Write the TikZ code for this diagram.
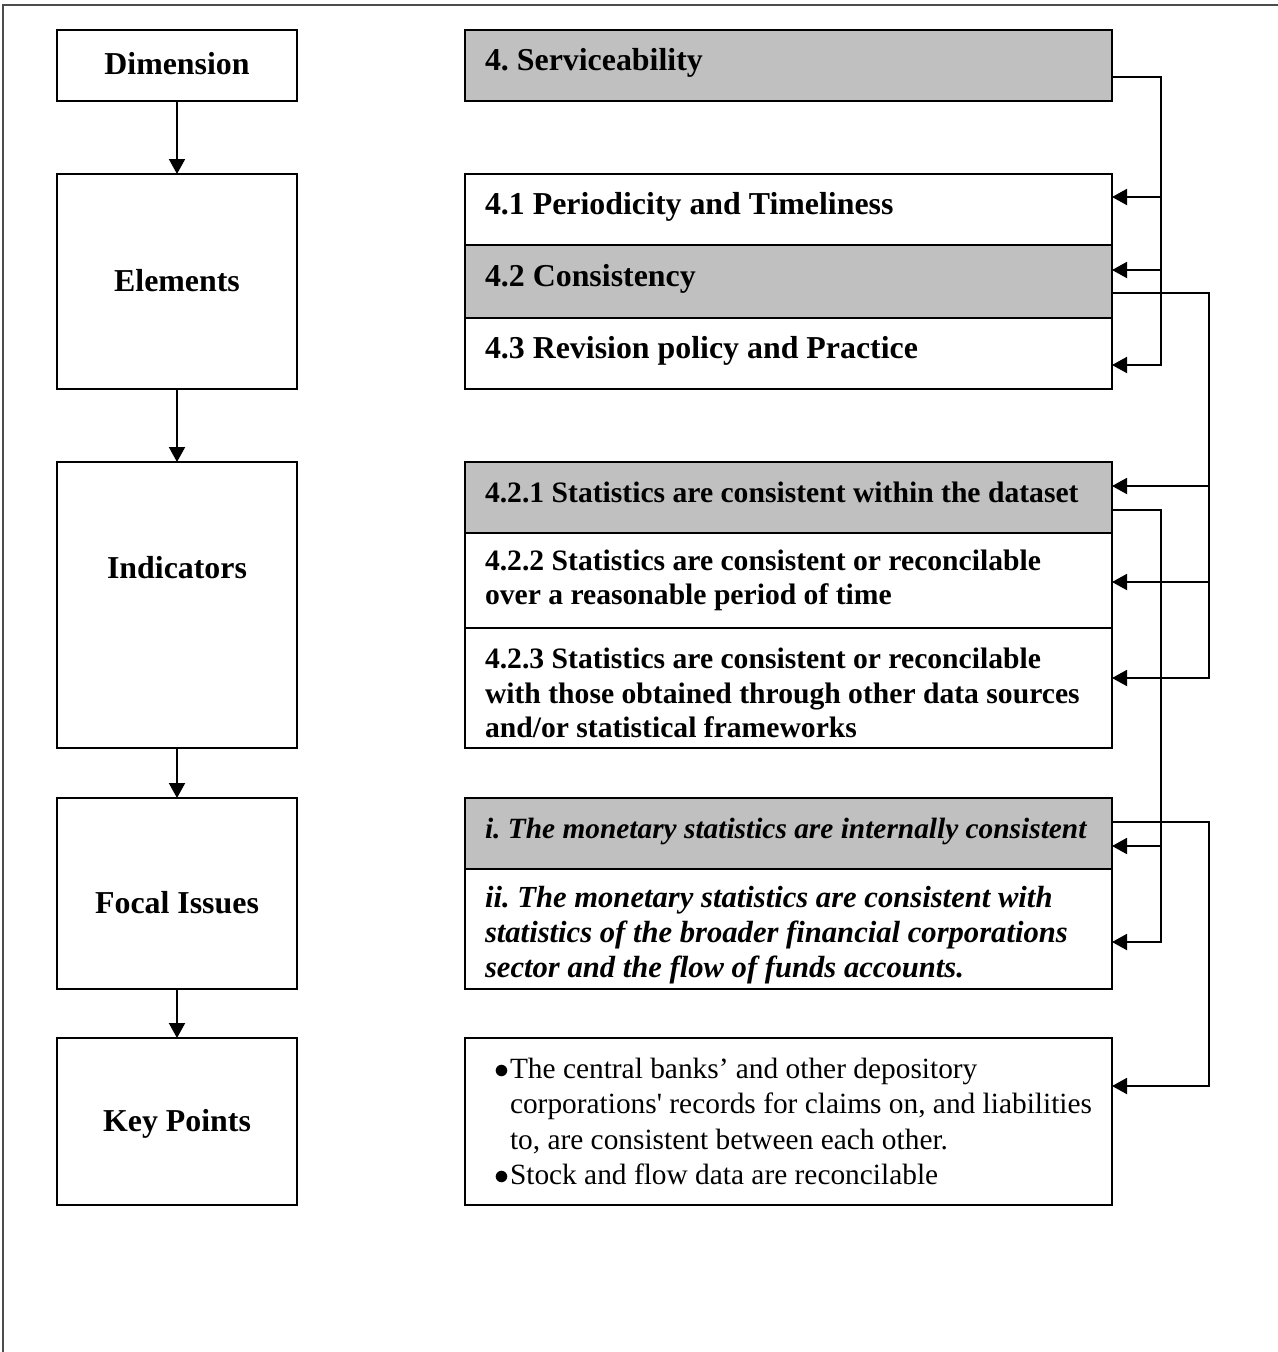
\documentclass[tikz,border=0pt]{standalone}
\usepackage{fontspec}
\setmainfont{Liberation Serif}[Ligatures=TeXOff]
\usetikzlibrary{arrows.meta, positioning}

\definecolor{cellgray}{RGB}{192,192,192}

% bullet line with hanging indent for the key points
\newcommand{\kpitem}[1]{\hangindent=10pt\hangafter=1\noindent\hspace*{3.6pt}\makebox[6.4pt][l]{$\bullet$}#1\par}

\begin{document}
\frenchspacing
\begin{tikzpicture}[
            x = 0.4pt, y = -0.4pt, % one unit per pixel, y runs downwards
            > = {Triangle[length=6pt, width=6.4pt]}, % arrow head style
            line width = 0.8pt % line style
        ]

        \tikzstyle{leftbox}=[
            draw = black,
            minimum width = 96pt,
            outer sep = 0pt,
            text height = 8.6pt,
            text depth = 1pt,
            font = \fontsize{12.75pt}{13.8pt}\selectfont\bfseries
        ]
        \tikzstyle{whitebox}=[
            draw = black,
            fill = white,
            text width = 242.8pt,
            inner xsep = 8pt,
            inner ysep = 1pt,
            outer sep = 0pt,
            align = flush left,
            font = \fontsize{12.75pt}{13.8pt}\selectfont\bfseries
        ]
        \tikzstyle{graybox}=[whitebox, fill = cellgray]
        \tikzstyle{oneline}=[text height = 8.6pt, text depth = 4.4pt]
        \tikzstyle{indic}=[font = \fontsize{11.85pt}{13.8pt}\selectfont\bfseries]
        \tikzstyle{focal}=[font = \fontsize{12.25pt}{14pt}\selectfont\bfseries\itshape]

        \useasboundingbox (0,0) rectangle (1278,1352);
        \draw[line width = 0.6pt, black!70] (3,1352) -- (3,5) -- (1278,5);

        % left column
        \node[leftbox, minimum height = 28.4pt, anchor = north west] (dim) at (57,30) {Dimension};
        \node[leftbox, minimum height = 86pt, below = 29.2pt of dim] (elem) {Elements};
        \node[leftbox, minimum height = 114.4pt, text depth = 29.6pt, below = 29.2pt of elem] (ind) {Indicators};
        \node[leftbox, minimum height = 76.4pt, text height = 17pt, below = 20pt of ind] (focal) {Focal Issues};
        \node[leftbox, minimum height = 66.8pt, below = 19.6pt of focal] (key) {Key Points};

        \draw[->] (dim) -- (elem);
        \draw[->] (elem) -- (ind);
        \draw[->] (ind) -- (focal);
        \draw[->] (focal) -- (key);

        % right column
        \node[graybox, oneline, minimum height = 28.4pt, anchor = north west] (serv) at (465,30) {4. Serviceability};

        \node[whitebox, oneline, minimum height = 28.4pt, anchor = north west] (p41) at (serv.west |- elem.north) {4.1 Periodicity and Timeliness};
        \node[graybox, oneline, minimum height = 29.2pt, below = 0pt of p41] (p42) {4.2 Consistency};
        \node[whitebox, oneline, minimum height = 28.4pt, below = 0pt of p42] (p43) {4.3 Revision policy and Practice};

        \node[graybox, oneline, indic, minimum height = 28.4pt, anchor = north west] (p421) at (serv.west |- ind.north) {\mbox{4.2.1 Statistics are consistent within the dataset}};
        \node[whitebox, indic, minimum height = 38pt, below = 0pt of p421] (p422) {4.2.2 Statistics are consistent or reconcilable\\over a reasonable period of time};
        \node[whitebox, indic, minimum height = 48pt, text height = 12.4pt, below = 0pt of p422] (p423) {4.2.3 Statistics are consistent or reconcilable\\with those obtained through other data sources\\and/or statistical frameworks};

        \node[graybox, oneline, focal, minimum height = 28.4pt, anchor = north west, font = \fontsize{11.75pt}{14pt}\selectfont\bfseries\itshape] (fi1) at (serv.west |- focal.north) {\mbox{i. The monetary statistics are internally consistent}};
        \node[whitebox, focal, minimum height = 48pt, text height = 13pt, below = 0pt of fi1] (fi2) {ii. The monetary statistics are consistent with\\statistics of the broader financial corporations\\sector and the flow of funds accounts.};

        \node[whitebox, minimum height = 66.8pt, anchor = north west, font = \fontsize{11.75pt}{14.2pt}\selectfont] (kp) at (serv.west |- key.north) {\kpitem{The central banks’ and other depository\newline corporations' records for claims on, and liabilities\newline to, are consistent between each other.}\kpitem{Stock and flow data are reconcilable}};

        % connector end points
        \coordinate (railA) at (1161,0);
        \coordinate (railB) at (1209,0);
        \path (serv.north east) ++(0,47) coordinate (serv-out);
        \path (p41.north east) ++(0,23) coordinate (p41-in);
        \path (p42.north east) ++(0,25) coordinate (p42-in);
        \path (p42.north east) ++(0,48) coordinate (p42-out);
        \path (p43.north east) ++(0,47) coordinate (p43-in);
        \path (p421.north east) ++(0,24) coordinate (p421-in);
        \path (p421.north east) ++(0,48) coordinate (p421-out);
        \path (p422.north east) ++(0,49) coordinate (p422-in);
        \path (p423.north east) ++(0,50) coordinate (p423-in);
        \path (fi1.north east) ++(0,24) coordinate (fi1-out);
        \path (fi1.north east) ++(0,48) coordinate (fi1-in);
        \path (fi2.north east) ++(0,73) coordinate (fi2-in);
        \path (kp.north east) ++(0,48) coordinate (kp-in);

        % dimension -> elements
        \draw[->] (serv-out) -| (railA |- p43-in) -- (p43-in);
        \draw[->] (railA |- p41-in) -- (p41-in);
        \draw[->] (railA |- p42-in) -- (p42-in);

        % element -> indicators
        \draw[->] (p42-out) -| (railB |- p423-in) -- (p423-in);
        \draw[->] (railB |- p421-in) -- (p421-in);
        \draw[->] (railB |- p422-in) -- (p422-in);

        % indicator -> focal issues
        \draw[->] (p421-out) -| (railA |- fi2-in) -- (fi2-in);
        \draw[->] (railA |- fi1-in) -- (fi1-in);

        % focal issue -> key points
        \draw[->] (fi1-out) -| (railB |- kp-in) -- (kp-in);

  \end{tikzpicture}
\end{document}
